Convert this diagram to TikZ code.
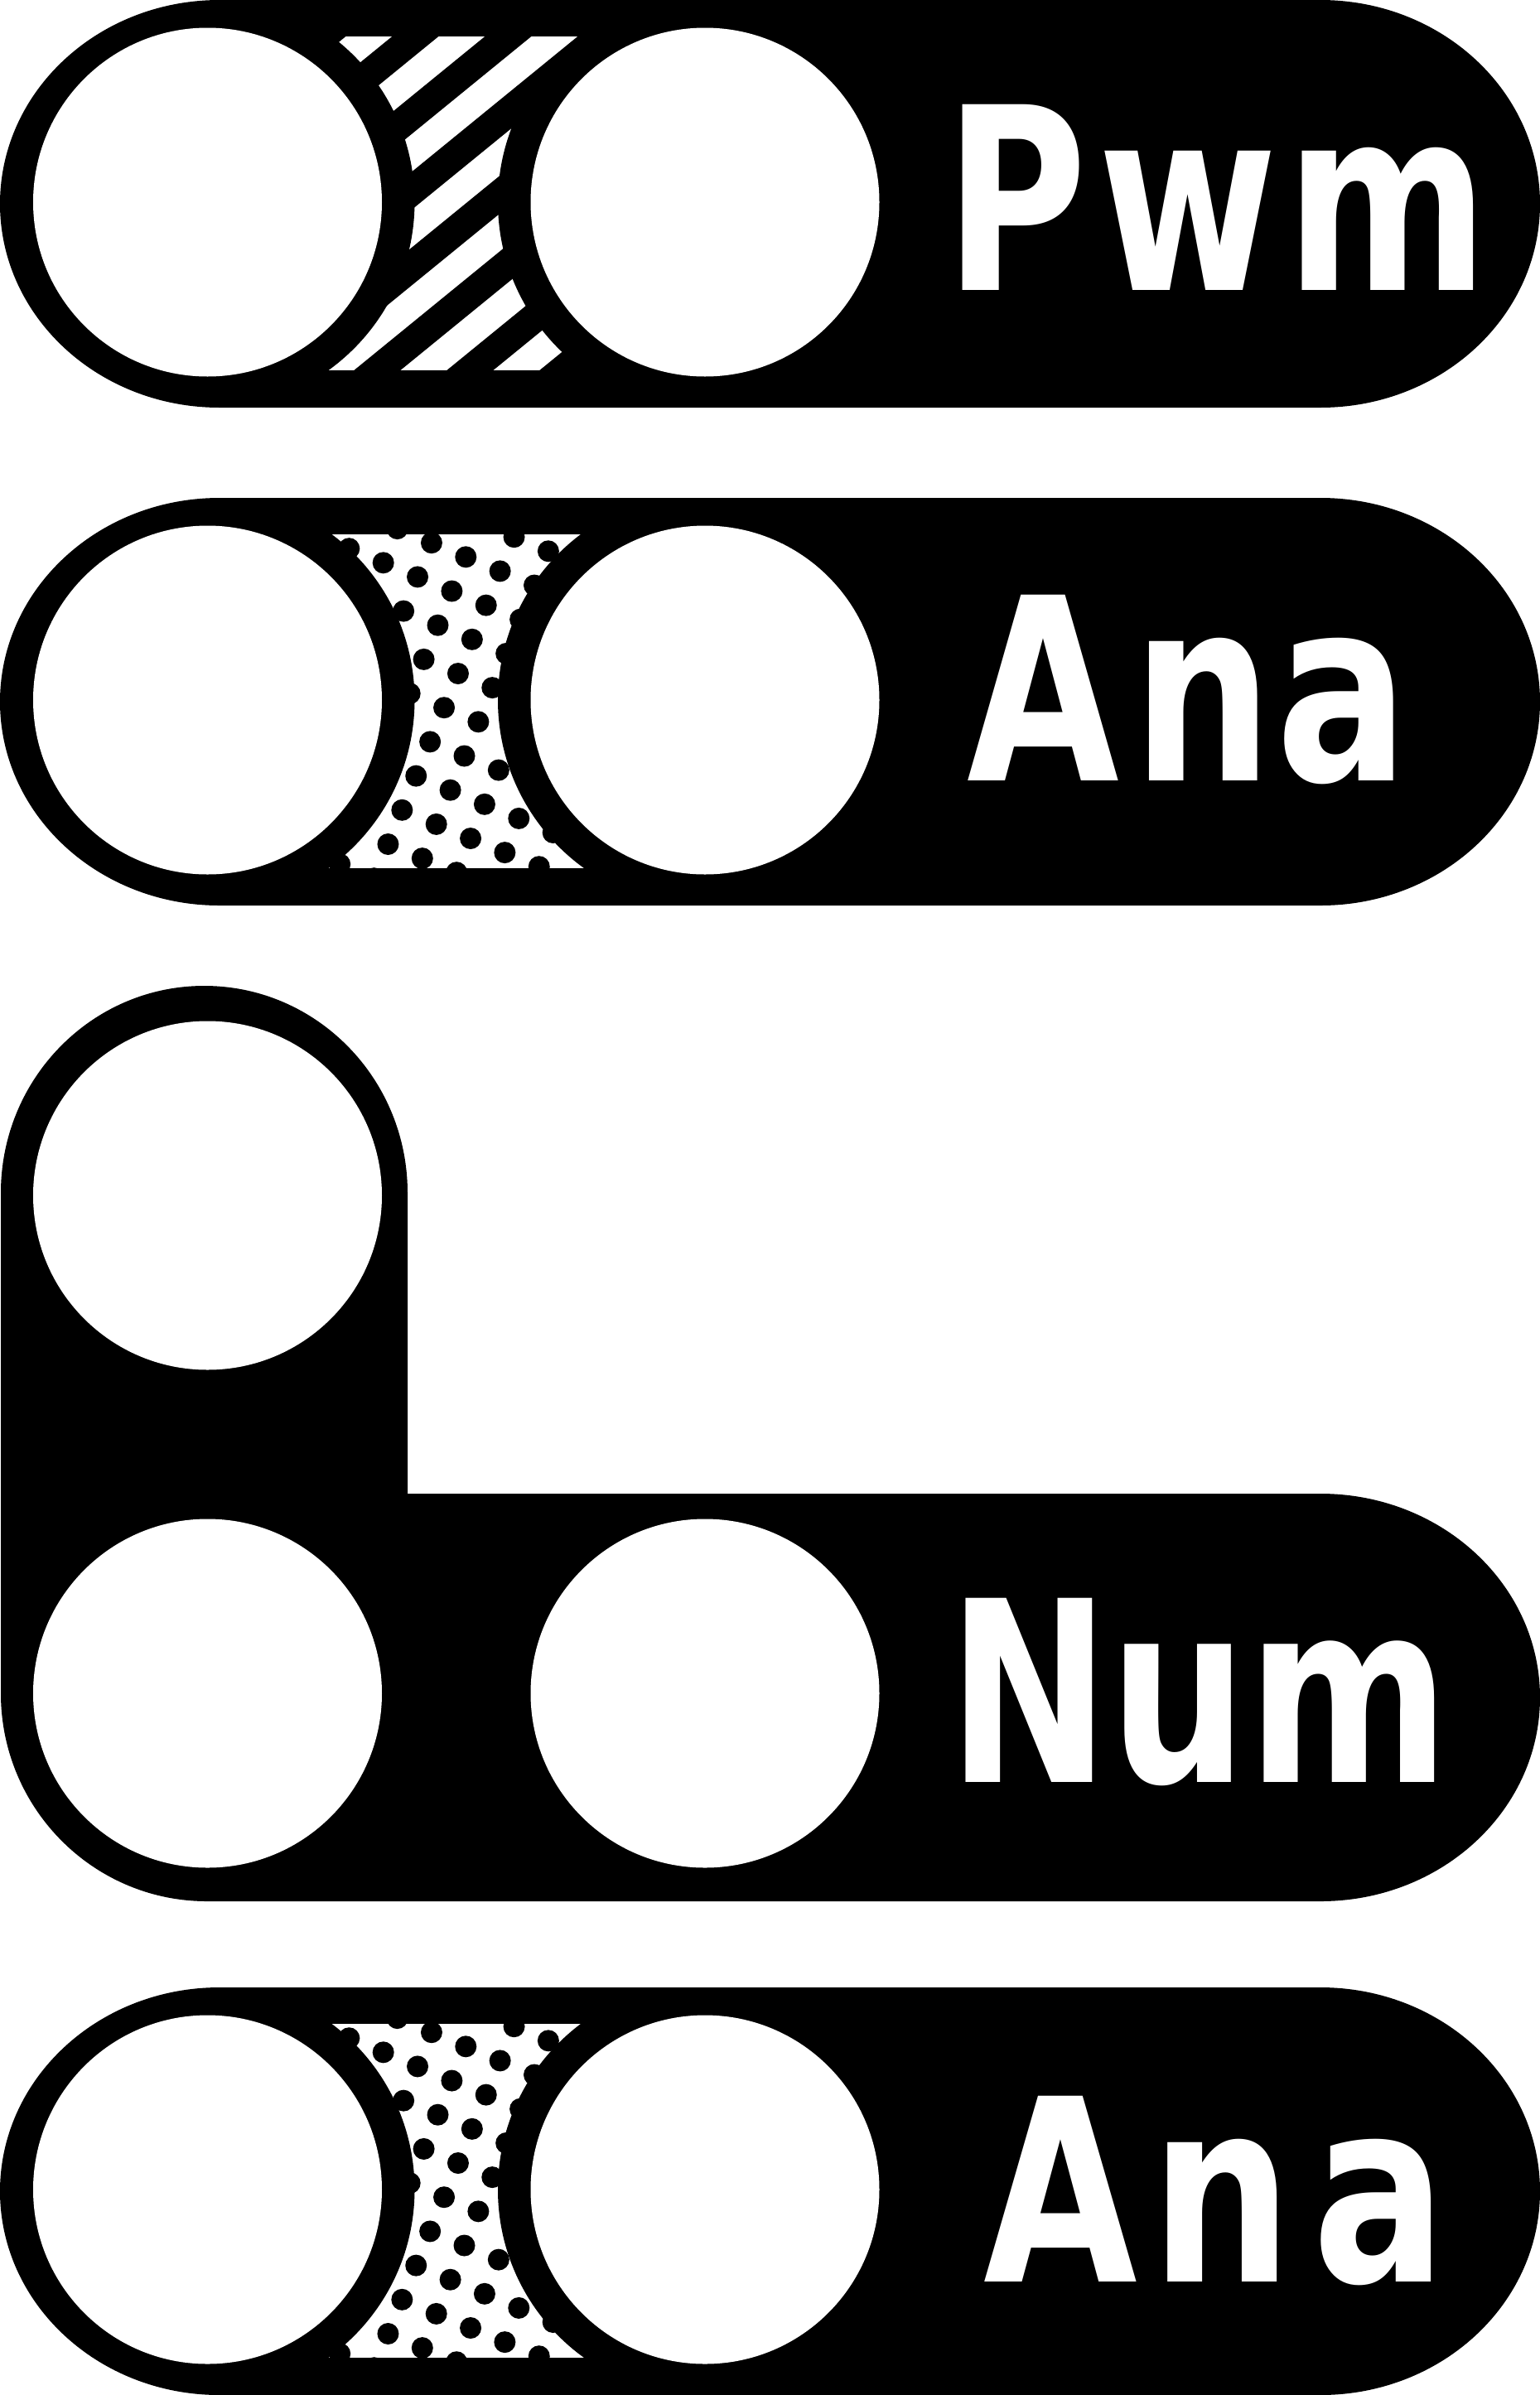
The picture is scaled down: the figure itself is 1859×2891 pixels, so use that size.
\documentclass[tikz,border=0pt]{standalone}
\usepackage{fontspec}
\setmainfont{DejaVu Sans}
\newcommand\mypill[1]{%
  \fill[black] (265,#1) -- (1594,#1)
    arc[start angle=90,end angle=-90,x radius=265pt,y radius=246pt]
    -- (265,#1+492)
    arc[start angle=270,end angle=90,x radius=265pt,y radius=246pt] -- cycle;}
\newcommand\myholes[1]{%
  \fill[white] (250.5,#1) circle[radius=210.5pt];
  \fill[white] (851,#1) circle[radius=210.5pt];}
\newcommand\myrings[1]{%
  \fill[black] (250.5,#1) circle[radius=250pt];
  \fill[black] (851,#1) circle[radius=250pt];}
\newcommand\mydots[1]{%
  \begin{scope}
    \clip (300,#1+644.5) rectangle (800,#1+1048);
    \fill[white] (300,#1+644.5) rectangle (800,#1+1048);
    \foreach \i in {-3,...,9}{\foreach \j in {-3,...,10}{
      \fill[black] ({462.7+\i*41.35-\j*16.9},{#1+679.3+\i*17.1+\j*41.2}) circle[radius=13pt];}}
    \myrings{#1+845}
  \end{scope}}
\begin{document}
\begin{tikzpicture}[x=1pt,y=-1pt]
\tikzset{lbl/.style={anchor=base west, inner sep=0pt, outer sep=0pt, text=white, font=\bfseries}}
\useasboundingbox (0,0) rectangle (1859,2891);
\fill[white] (0,0) rectangle (1859,2891);
% ---------- panel 1 : Pwm (stripes)
\mypill{0}
\begin{scope}
  \clip (300,43.5) rectangle (800,447);
  \fill[white] (300,43.5) rectangle (800,447);
  \foreach \k in {-1,...,8}{
    \fill[black] ({474+112*\k+16.5},30) -- ({530+112*\k+16.5},30)
      -- ({530+112*\k-510.6},460) -- ({474+112*\k-510.6},460) -- cycle;}
  \myrings{244}
\end{scope}
\myholes{244}
\node[lbl] (pwm) at (1140,350) {\resizebox{656pt}{224pt}{P\kern0.06em w\kern0.04em m}};
% ---------- panel 2 : Ana (dots)
\mypill{601}
\mydots{0}
\myholes{845}
\node[lbl] (ana1) at (1167,942.3) {\resizebox{533pt}{224pt}{A\kern0.07em n\kern0.015em a}};
% ---------- panel 3 : Num
\fill[black] (1,1440) arc[start angle=180,end angle=0,x radius=245.5pt,y radius=250pt]
  -- (492,1803) -- (1594,1803)
  arc[start angle=90,end angle=-90,x radius=265pt,y radius=246pt]
  -- (250,2295) arc[start angle=270,end angle=180,x radius=249pt,y radius=251pt] -- cycle;
\fill[white] (250.5,1443) circle[radius=210.5pt];
\myholes{2044}
\node[lbl] (num) at (1144,2151.6) {\resizebox{605pt}{222pt}{Num}};
% ---------- panel 4 : Ana (dots)
\mypill{2399}
\mydots{1798}
\myholes{2643}
\node[lbl] (ana2) at (1187,2754) {\resizebox{558pt}{224pt}{A\kern0.07em n\kern0.1em a}};
\end{tikzpicture}
\end{document}
